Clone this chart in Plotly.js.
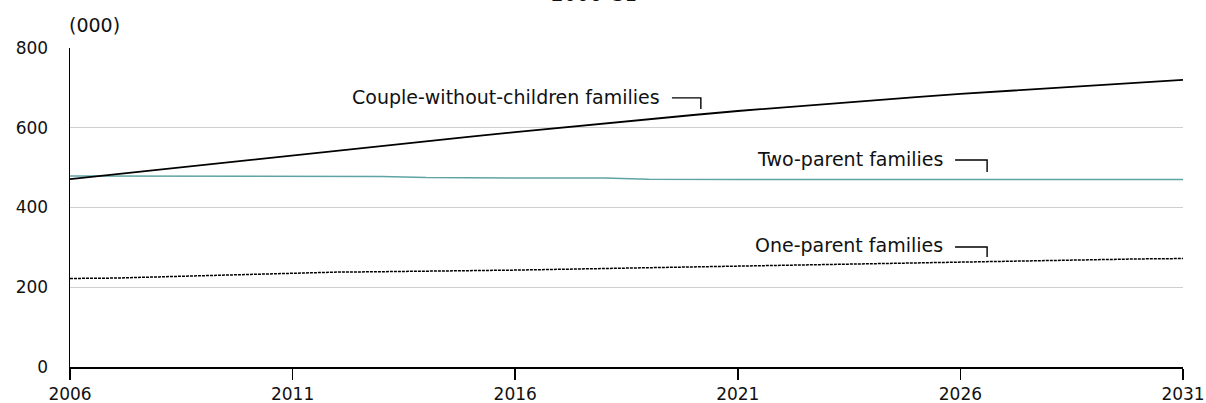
<!DOCTYPE html>
<html>
<head>
<meta charset="utf-8">
<script src="https://cdn.plot.ly/plotly-3.0.1.min.js"></script>
<style>html,body{margin:0;padding:0;background:#fff;}#chart{width:1206px;height:403px;}</style>
</head>
<body>
<div id="chart"></div>
<script>
const years = [2006,2007,2008,2009,2010,2011,2012,2013,2014,2015,2016,2017,2018,2019,2020,2021,2022,2023,2024,2025,2026,2027,2028,2029,2030,2031];
const coupleNoChildren = [471,483,495,507,519,531,543,555,567,578,589,600,611,622,632,642,651,660,669,677,685,692,700,707,714,720];
const twoParent = [479,479,478,478,478,478,478,478,475,474,474,474,474,471,470,470,470,470,470,470,470,470,470,470,470,470];
const oneParent = [222,223,226,229,232,236,238,239,240,241,243,245,247,249,251,254,256,258,260,262,264,266,268,270,271,272];
const xTicks = [2006,2011,2016,2021,2026,2031];
const yTicks = [0,200,400,600,800];
const seriesNames = ["Couple-without-children families","Two-parent families","One-parent families"];

const family = "DejaVu Sans, Verdana, sans-serif";
const tickFont = {family: family, size: 17, color: "#111"};
const labelFont = {family: family, size: 19, color: "#111"};

const traces = [
  {x: years, y: twoParent, type: "scatter", mode: "lines", name: seriesNames[1],
   line: {color: "#5fa4a4", width: 1.5}},
  {x: years, y: oneParent, type: "scatter", mode: "lines", name: seriesNames[2],
   line: {color: "#000", width: 1.5, dash: "3px,1px"}},
  {x: years, y: coupleNoChildren, type: "scatter", mode: "lines", name: seriesNames[0],
   line: {color: "#000", width: 1.8}}
];

function leader(x0, x1, y0, y1) {
  return {type: "path", xref: "x", yref: "y",
    path: `M ${x0} ${y0} L ${x1} ${y0} L ${x1} ${y1}`,
    line: {color: "#000", width: 1.4}};
}

const layout = {
  width: 1206, height: 403,
  margin: {l: 70, r: 23, t: 48, b: 36},
  paper_bgcolor: "#fff", plot_bgcolor: "#fff",
  showlegend: false,
  font: tickFont,
  xaxis: {
    range: [2006, 2031], tickvals: xTicks, ticktext: xTicks.map(String),
    showgrid: false, zeroline: false,
    showline: true, linecolor: "#000", linewidth: 1.5,
    ticks: "outside", ticklen: 11, tickwidth: 1.5, tickcolor: "#000",
    tickfont: tickFont, fixedrange: true
  },
  yaxis: {
    range: [0, 800], tickvals: yTicks, ticktext: yTicks.map(String),
    showgrid: true, gridcolor: "#cfcfcf", gridwidth: 1.2,
    zeroline: false, showline: true, linecolor: "#000", linewidth: 1.5,
    ticks: "", tickfont: tickFont, ticklabelstandoff: 17, fixedrange: true
  },
  annotations: [
    {text: "2006–31", xref: "paper", yref: "paper", x: 0.471, y: 1.125,
     xanchor: "center", yanchor: "bottom", showarrow: false, font: {family: family, size: 20, color: "#111"}},
    {text: "(000)", xref: "paper", yref: "paper", x: -0.003, y: 1.03,
     xanchor: "left", yanchor: "bottom", showarrow: false, font: labelFont},
    {text: seriesNames[0], xref: "x", yref: "y", x: 2019.3, y: 677,
     xanchor: "right", yanchor: "middle", showarrow: false, font: labelFont},
    {text: seriesNames[1], xref: "x", yref: "y", x: 2025.65, y: 522,
     xanchor: "right", yanchor: "middle", showarrow: false, font: labelFont},
    {text: seriesNames[2], xref: "x", yref: "y", x: 2025.65, y: 305,
     xanchor: "right", yanchor: "middle", showarrow: false, font: labelFont}
  ],
  shapes: [
    leader(2019.52, 2020.17, 675, 647),
    leader(2025.88, 2026.6, 519, 489),
    leader(2025.88, 2026.6, 301, 276)
  ]
};

Plotly.newPlot("chart", traces, layout, {staticPlot: true, displayModeBar: false});
</script>
</body>
</html>
